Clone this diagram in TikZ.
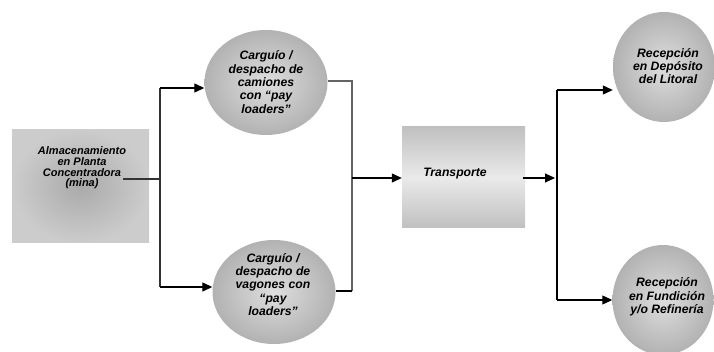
\documentclass[tikz,border=0pt]{standalone}
\usepackage{fontspec}
\setmainfont{Liberation Sans}
\usetikzlibrary{shapes.geometric,arrows.meta}
\definecolor{cin}{RGB}{222,222,222}
\definecolor{cout}{RGB}{178,178,178}
\definecolor{bin}{RGB}{170,170,170}
\definecolor{bout}{RGB}{204,204,204}
\definecolor{tedge}{RGB}{192,192,192}
\definecolor{tmid}{RGB}{234,234,234}
\definecolor{lgray}{RGB}{100,100,100}
\tikzset{
  proc/.style={ellipse,draw=none,inner color=cin,outer color=cout},
  txt/.style={font=\fontsize{12.2}{13.4}\selectfont\bfseries\itshape,align=center,inner sep=0pt},
  ltxt/.style={font=\fontsize{11}{10.6}\selectfont\bfseries\itshape,align=center,inner sep=0pt},
  arr/.style={line width=1.1pt,-{Triangle[length=10pt,width=9pt]}},
  ln/.style={line width=1.1pt},
}
\begin{document}
\begin{tikzpicture}[x=1pt,y=-1pt]
\useasboundingbox (0,0) rectangle (714,352);
% left box
\node[rectangle,minimum width=137pt,minimum height=113pt,inner sep=0pt,inner color=bin,outer color=bout] (alm) at (80.5,186.5) {};
\node[ltxt] (almt) at (82,168) {Almacenamiento\\en Planta\\Concentradora\\(mina)};
% circles
\node[proc,minimum width=123pt,minimum height=105pt] (c1) at (266,82.5) {};
\node[txt] (c1t) at (266,82) {Carguío /\\despacho de\\camiones\\con “pay\\loaders”};
\node[proc,minimum width=123pt,minimum height=104pt] (c2) at (274,292) {};
\node[txt] (c2t) at (273,284.5) {Carguío /\\despacho de\\vagones con\\“pay\\loaders”};
\node[proc,minimum width=102pt,minimum height=110pt] (c3) at (664,67) {};
\node[txt] (c3t) at (668,66) {Recepción\\en Depósito\\del Litoral};
\node[proc,minimum width=101pt,minimum height=110pt] (c4) at (663,300) {};
\node[txt] (c4t) at (667,297) {Recepción\\en Fundición\\y/o Refinería};
% transport
\node[rectangle,minimum width=123pt,minimum height=101pt,inner sep=0pt,top color=tedge,bottom color=tedge,middle color=tmid] (tr) at (463.5,177.5) {};
\node[txt] (trt) at (455,174) {Transporte};
% junction coordinates
\coordinate (ls) at (123,179);
\coordinate (lj) at (160,179);
\coordinate (lt) at (160,88);
\coordinate (lb) at (160,287);
\coordinate (mt) at (352,81);
\coordinate (mb) at (352,291);
\coordinate (mm) at (352,178);
\coordinate (rs) at (523,178);
\coordinate (rm) at (557,178);
\coordinate (rt) at (557,90);
\coordinate (rb) at (557,300);
% connectors left
\draw[ln,black!80] (ls) -- (lj);
\draw[ln,black!80] (lt) -- (lb);
\draw[arr] (lt) -- (lt -| c1.west);
\draw[arr] (lb) -- (lb -| c2.west);
% connectors middle
\draw[ln,lgray] (mt -| c1.east) -- (mt) -- (mb);
\draw[ln,black] (mb -| c2.east) -- (mb);
\draw[arr] (mm) -- (mm -| tr.west);
% connectors right
\draw[arr] (rs) -- ([xshift=-2pt]rm);
\draw[ln] (rt) -- (rb);
\draw[arr] (rt) -- (rt -| c3.west);
\draw[arr] (rb) -- (rb -| c4.west);
\end{tikzpicture}
\end{document}
